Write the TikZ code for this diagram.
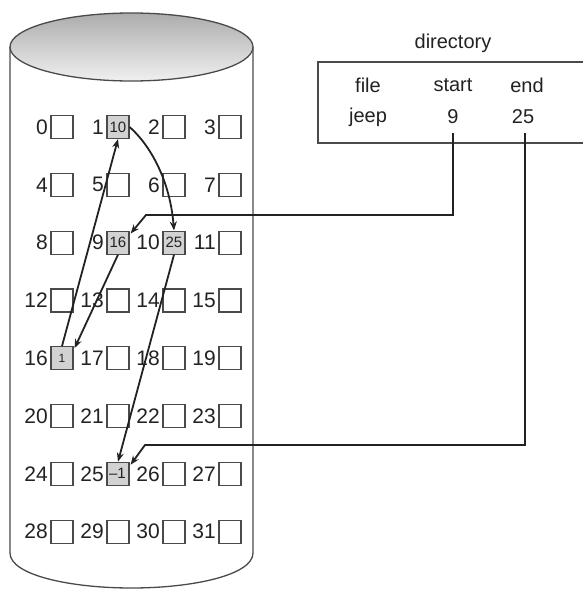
\documentclass[tikz,border=0pt]{standalone}
\usepackage{fontspec}
\setmainfont{Liberation Sans}
\usetikzlibrary{arrows.meta}
\definecolor{ink}{HTML}{222222}
\definecolor{edge}{HTML}{4A4A4A}
\definecolor{cell}{HTML}{D2D2D2}
\tikzset{
  blk/.style={draw=edge, line width=1.2pt, fill=white, minimum width=22pt, minimum height=23pt, inner sep=0pt},
  used/.style={blk, fill=cell, font=\fontsize{15}{15}\selectfont, text=ink},
  lbl/.style={anchor=east, inner sep=0pt, font=\fontsize{21}{21}\selectfont, text=ink},
  dirtxt/.style={inner sep=0pt, font=\fontsize{20}{20}\selectfont, text=ink},
  link/.style={draw=ink, line width=1.8pt, -{Stealth[length=9pt,width=7pt]}},
}
\begin{document}
\begin{tikzpicture}[x=1pt,y=-1pt]
\useasboundingbox (0,0) rectangle (583,589);
% cylinder
\draw[edge, line width=1.3pt] (10,47) -- (10,553) .. controls (10,575) and (70,588) .. (131.5,588)
  .. controls (193,588) and (253,575) .. (253,553) -- (253,47);
\draw[edge, line width=1.3pt, top color=gray!65, bottom color=gray!12] (131.5,47) ellipse [x radius=121.5, y radius=34];
% grid
\foreach \r in {0,...,7}{
  \foreach \c in {0,...,3}{
    \pgfmathtruncatemacro{\n}{4*\r+\c}
    \node[blk] (b\n) at ({62+56*\c},{127+57.8*\r}) {};
    \node[lbl] at ([xshift=-2.5pt]b\n.west) {\n};
  }
}
\node[used] at (b1) {10};
\node[used] at (b9) {16};
\node[used] at (b10) {25};
\node[used, font=\fontsize{12}{12}\selectfont] at (b16) {1};
\node[used] at (b25) {\kern-1pt--1};
% directory
\node[dirtxt] (dirlbl) at (453,43) {directory};
\draw[edge, line width=1.3pt] (583,62) -- (318,62) -- (318,143) -- (583,143);
\node[dirtxt] (hfile) at (368,85) {file};
\node[dirtxt] (hstart) at (453,85) {start};
\node[dirtxt] (hend) at (527,85) {end};
\node[dirtxt] (jeep) at (368,117) {jeep};
\node[dirtxt] (v9) at (453,117) {9};
\node[dirtxt] (v25) at (523,117) {25};
\coordinate (s0) at (453,133);
\coordinate (e0) at (525,133);
% links
\draw[link] (s0) -- (453,215) -- (146,215) -- ([xshift=1pt,yshift=-3pt]b9.north east);
\draw[link] (e0) -- (525,445) -- (145,445) -- ([xshift=1pt,yshift=-3pt]b25.north east);
\draw[link] (b16.north) -- (b1.south);
\draw[link] (b1.east) .. controls (150,145) and (170,180) .. (b10.north);
\draw[link] (b9.south) -- ([xshift=1pt,yshift=-2pt]b16.north east);
\draw[link] (b10.south) -- (b25.north);
\end{tikzpicture}
\end{document}
